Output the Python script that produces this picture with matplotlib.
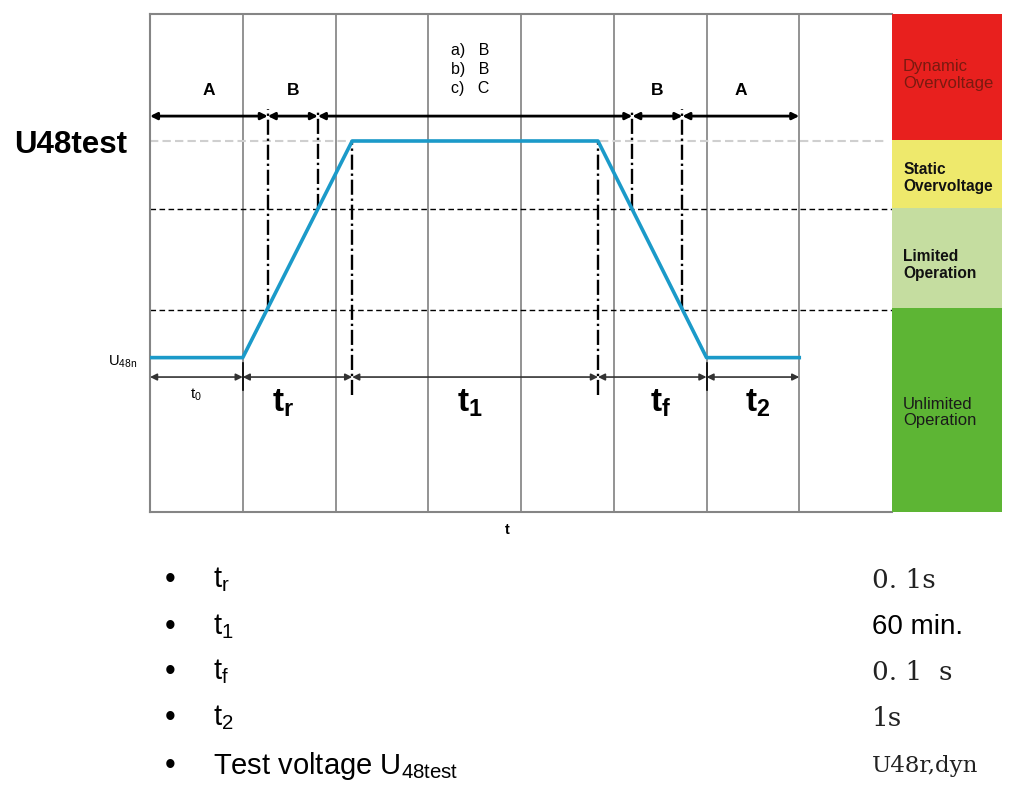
import matplotlib
matplotlib.use('Agg')
import matplotlib.pyplot as plt

plt.rcParams['font.family'] = ['Liberation Sans', 'DejaVu Sans']
plt.rcParams['mathtext.fontset'] = 'custom'
plt.rcParams['mathtext.rm'] = 'Liberation Sans'
plt.rcParams['mathtext.bf'] = 'Liberation Sans:bold'
plt.rcParams['mathtext.it'] = 'Liberation Sans:italic'

# voltage levels (relative, chart height = 100)
U48N = 31
U_LIMITED = 40.6
U_STATIC = 60.8
U48TEST = 74.5

# test profile
t_profile = [0, 1.0, 2.18, 4.83, 6.0, 7.0]
u_profile = [U48N, U48N, U48TEST, U48TEST, U48N, U48N]

# top row: phases
phase_edges = [0, 1.27, 1.81, 5.2, 5.74, 7.0]
phase_labels = ['A', 'B', 'a)   B\nb)   B\nc)   C', 'B', 'A']

# bottom row: time segments
time_edges = [0, 1.0, 2.18, 4.83, 6.0, 7.0]
time_labels = [r'$\mathrm{t_0}$', r'$\mathbf{t_r}$', r'$\mathbf{t_1}$',
               r'$\mathbf{t_f}$', r'$\mathbf{t_2}$']

# dash-dot markers
mark_x = [1.27, 1.81, 2.18, 4.83, 5.2, 5.74]
mark_top = [81, 81, U48TEST, U48TEST, 81, 81]
mark_bottom = [U_LIMITED, U_STATIC, 23.5, 23.5, U_STATIC, U_LIMITED]

# colour zones
zone_edges = [0, 41, 61, 74.7, 100]
zone_colors = ['#5DB534', '#C5DDA0', '#EEE96C', '#E8201E']
zone_labels = ['Unlimited\nOperation', 'Limited\nOperation',
               'Static\nOvervoltage', 'Dynamic\nOvervoltage']
zone_text_colors = ['#1a1a1a', '#111111', '#111111', '#7a1a10']
zone_weights = ['normal', 'bold', 'bold', 'normal']

# parameter list
bullet_items = [r'$\mathrm{t_r}$', r'$\mathrm{t_1}$', r'$\mathrm{t_f}$',
                r'$\mathrm{t_2}$', r'Test voltage U$_{\mathrm{48test}}$']
bullet_values = ['0. 1s', '60 min.', '0. 1  s', '1s', 'U48r,dyn']


def fx(px):
    return px / 1010


def fy(py):
    return 1 - py / 786


fig = plt.figure(figsize=(10.1, 7.86), dpi=100)
ax = fig.add_axes([fx(150), fy(512), 742 / 1010, 498 / 786])
ax.set_xlim(0, 8)
ax.set_ylim(0, 100)
ax.set_xticks([])
ax.set_yticks([])
for s in ['left', 'bottom', 'top']:
    ax.spines[s].set_color('#858585')
    ax.spines[s].set_linewidth(1.5)
ax.spines['right'].set_visible(False)

for x in range(1, 8):
    ax.axvline(x, color='#8a8a8a', lw=1.3, zorder=1)

ax.axhline(U_STATIC, color='black', lw=1, ls=(0, (4, 2.5)), zorder=2)
ax.axhline(U_LIMITED, color='black', lw=1, ls=(0, (4, 2.5)), zorder=2)
ax.plot([0, 7.95], [U48TEST, U48TEST], color='#cfcfcf', lw=1.5, ls=(0, (4, 2)), zorder=2)

for x, y0, y1 in zip(mark_x, mark_bottom, mark_top):
    ax.plot([x, x], [y0, y1], color='black', lw=1.7, ls='-.', zorder=3)
for x in [1.0, 6.0]:
    ax.plot([x, x], [24.5, 30], color='black', lw=1.2, zorder=3)

ax.plot(t_profile, u_profile, color='#1B9AC9', lw=2.6, zorder=4)

# top arrows
for a, b, lab in zip(phase_edges[:-1], phase_edges[1:], phase_labels):
    ax.annotate('', xy=(b, 79.5), xytext=(a, 79.5),
                arrowprops=dict(arrowstyle='<|-|>', color='black', lw=2,
                                mutation_scale=10, shrinkA=0, shrinkB=0))
    if '\n' in lab:
        ax.text(3.45, 88.8, lab, ha='center', va='center', fontsize=11.5,
                linespacing=1.35, multialignment='left')
    else:
        ax.text((a + b) / 2, 84.7, lab, ha='center', va='center',
                fontsize=12.5, fontweight='bold')

# bottom arrows
time_label_x = [0.5, 1.43, 3.45, 5.5, 6.55]
time_sizes = [11, 24, 24, 24, 24]
for a, b, lab, lx, fs in zip(time_edges[:-1], time_edges[1:], time_labels,
                             time_label_x, time_sizes):
    ax.annotate('', xy=(b, 27.1), xytext=(a, 27.1),
                arrowprops=dict(arrowstyle='<|-|>', color='#333333', lw=1.2,
                                mutation_scale=10, shrinkA=0, shrinkB=0))
    ax.text(lx, 23.5 if fs < 15 else 21.8, lab, ha='center', va='center', fontsize=fs)

ax.text(3.85, -3.6, 't', ha='center', va='center', fontsize=10.5,
        fontweight='bold', clip_on=False)

# colour zones
axz = fig.add_axes([fx(892), fy(512), 110 / 1010, 498 / 786])
axz.bar(0.5, [t - b for b, t in zip(zone_edges[:-1], zone_edges[1:])],
        bottom=zone_edges[:-1], width=1, color=zone_colors)
axz.set_xlim(0, 1)
axz.set_ylim(0, 100)
axz.axis('off')
zone_text_y = [20, 49.6, 67, 87.8]
for y, lab, c, w in zip(zone_text_y, zone_labels, zone_text_colors, zone_weights):
    axz.text(0.1, y, lab, ha='left', va='center', fontsize=12 if w == 'normal' else 11.2,
             color=c, fontweight=w, linespacing=1.15)

# left labels
fig.text(fx(14), fy(145), 'U48test', fontsize=22.5, fontweight='bold', va='center')
fig.text(fx(137), fy(362), r'U$_{\mathrm{48n}}$', fontsize=10.5, ha='right', va='center')

# parameter list
row_y = [580, 627, 672, 718, 766]
for py, item, val in zip(row_y, bullet_items, bullet_values):
    fig.text(fx(170), fy(py), '\u2022', fontsize=22, ha='center', va='center')
    fig.text(fx(213), fy(py), item, fontsize=21, ha='left', va='center')
    if val == '60 min.':
        fig.text(fx(872), fy(py), val, fontsize=20, ha='left', va='center')
    else:
        fig.text(fx(872), fy(py), val, fontsize=19 if val != 'U48r,dyn' else 16.5,
                 ha='left', va='center', family='DejaVu Serif', color='#222222')

fig.savefig('out.png', dpi=100)
